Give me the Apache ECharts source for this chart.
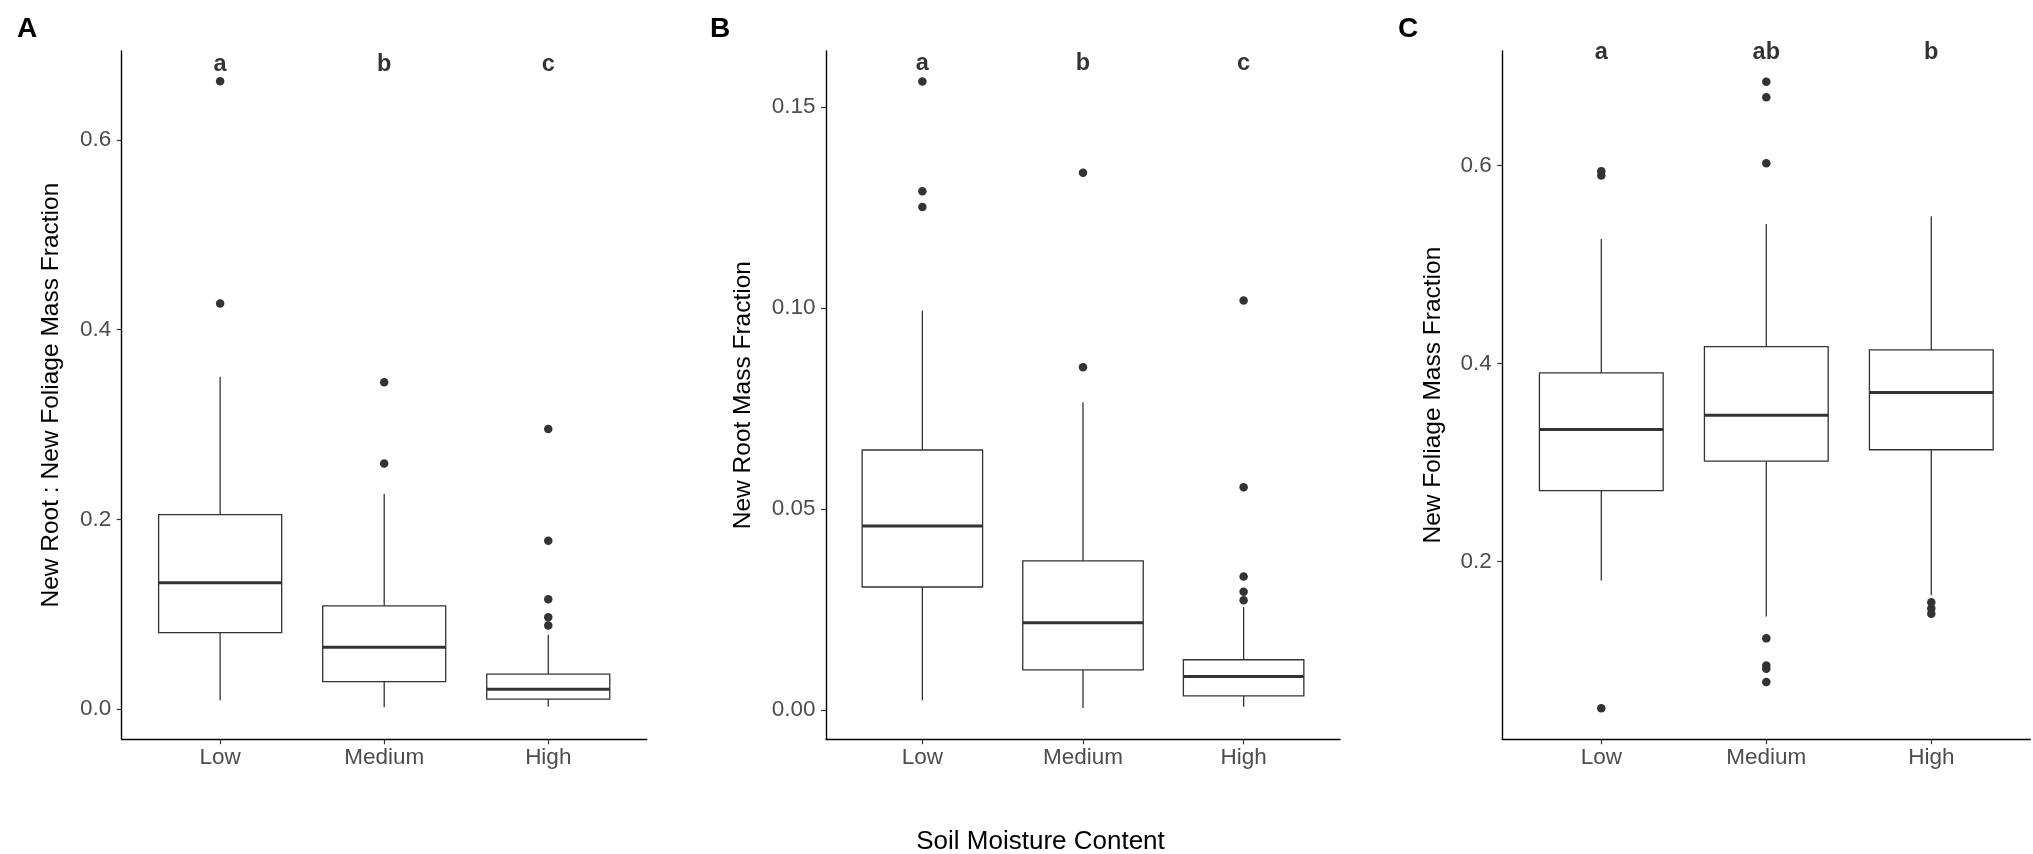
<!DOCTYPE html>
<html>
<head>
<meta charset="utf-8">
<script src="https://cdn.jsdelivr.net/npm/echarts@6/dist/echarts.min.js"></script>
<style>
  html, body { margin: 0; padding: 0; background: #fff; }
  #main { width: 2033px; height: 854px; }
</style>
</head>
<body>
<div id="main"></div>
<script>
// categories on the x axis of every panel
const categories = ['Low', 'Medium', 'High'];

// box stats per category: [min whisker, Q1, median, Q3, max whisker]
const boxA = [
  [0.0092, 0.0806, 0.1330, 0.2049, 0.3505],
  [0.0017, 0.0288, 0.0650, 0.1088, 0.2268],
  [0.0023, 0.0104, 0.0207, 0.0368, 0.0783]
];
const boxB = [
  [0.0024, 0.0306, 0.0458, 0.0647, 0.0994],
  [0.0005, 0.0100, 0.0217, 0.0371, 0.0766],
  [0.0008, 0.0035, 0.0083, 0.0125, 0.0256]
];
const boxC = [
  [0.1807, 0.2716, 0.3333, 0.3906, 0.5260],
  [0.1444, 0.3014, 0.3477, 0.4171, 0.5410],
  [0.1658, 0.3129, 0.3708, 0.4138, 0.5488]
];

// outliers: [category index, value]
const outliersA = [
  [0, 0.6620], [0, 0.4276],
  [1, 0.3447], [1, 0.2590],
  [2, 0.2953], [2, 0.1773], [2, 0.1157], [2, 0.0967], [2, 0.0881]
];
const outliersB = [
  [0, 0.1564], [0, 0.1291], [0, 0.1252],
  [1, 0.1337], [1, 0.0853],
  [2, 0.1019], [2, 0.0554], [2, 0.0332], [2, 0.0294], [2, 0.0273]
];
const outliersC = [
  [0, 0.5945], [0, 0.5900], [0, 0.0518],
  [1, 0.6849], [1, 0.6691], [1, 0.6024], [1, 0.1223], [1, 0.0948], [1, 0.0915], [1, 0.0782],
  [2, 0.1587], [2, 0.1526], [2, 0.1471]
];

// significance letters and the value they sit at
const lettersA = ['a', 'b', 'c'];
const lettersB = ['a', 'b', 'c'];
const lettersC = ['a', 'ab', 'b'];
const letterYA = 0.680;
const letterYB = 0.161;
const letterYC = 0.7145;

// y tick labels and axis ranges
const ticksA = [0, 0.2, 0.4, 0.6];
const ticksB = [0, 0.05, 0.10, 0.15];
const ticksC = [0.2, 0.4, 0.6];
const rangeA = [-0.032, 0.694];
const rangeB = [-0.0073, 0.164];
const rangeC = [0.0203, 0.7159];

const yTitles = [
  'New Root : New Foliage Mass Fraction',
  'New Root Mass Fraction',
  'New Foliage Mass Fraction'
];
const xTitle = 'Soil Moisture Content';
const panelTags = ['A', 'B', 'C'];

const FONT = '"Liberation Sans", Arial, Helvetica, sans-serif';
const INK = '#333333';

const chart = echarts.init(document.getElementById('main'), null, { renderer: 'canvas' });

const grids = [
  { left: 121.7, top: 51, width: 525, bottom: 114.7 },
  { left: 826, top: 51, width: 514, bottom: 114.7 },
  { left: 1502.3, top: 51, width: 528, bottom: 114.7 }
];

function xAxisFor(i) {
  return {
    type: 'value',
    gridIndex: i,
    min: -0.6,
    max: 2.6,
    axisLine: { show: true, onZero: false, lineStyle: { color: '#000', width: 1.4 } },
    axisTick: { show: true, length: 5, customValues: [0, 1, 2], lineStyle: { color: INK, width: 1.2 } },
    axisLabel: {
      customValues: [0, 1, 2],
      formatter: v => categories[Math.round(v)],
      color: '#4d4d4d',
      fontFamily: FONT,
      fontSize: 22.5,
      margin: 7
    },
    splitLine: { show: false }
  };
}

function yAxisFor(i, range, ticks, digits, gap) {
  return {
    type: 'value',
    gridIndex: i,
    min: range[0],
    max: range[1],
    name: yTitles[i],
    nameLocation: 'middle',
    nameGap: gap,
    nameTextStyle: { color: '#000', fontFamily: FONT, fontSize: 24.5 },
    axisLine: { show: true, onZero: false, lineStyle: { color: '#000', width: 1.4 } },
    axisTick: { show: true, length: 5, customValues: ticks, lineStyle: { color: INK, width: 1.2 } },
    axisLabel: {
      customValues: ticks,
      formatter: v => v.toFixed(digits),
      color: '#4d4d4d',
      fontFamily: FONT,
      fontSize: 22.5,
      margin: 10.5
    },
    splitLine: { show: false }
  };
}

function renderBox(params, api) {
  const x = api.value(0);
  const pMin = api.coord([x, api.value(1)]);
  const pQ1 = api.coord([x, api.value(2)]);
  const pMed = api.coord([x, api.value(3)]);
  const pQ3 = api.coord([x, api.value(4)]);
  const pMax = api.coord([x, api.value(5)]);
  const half = api.size([0.75, 0])[0] / 2;
  const thin = { stroke: INK, lineWidth: 1.3, fill: null };
  return {
    type: 'group',
    children: [
      { type: 'line', shape: { x1: pMin[0], y1: pMin[1], x2: pQ1[0], y2: pQ1[1] }, style: thin },
      { type: 'line', shape: { x1: pQ3[0], y1: pQ3[1], x2: pMax[0], y2: pMax[1] }, style: thin },
      {
        type: 'rect',
        shape: { x: pQ1[0] - half, y: pQ3[1], width: half * 2, height: pQ1[1] - pQ3[1] },
        style: { fill: '#fff', stroke: INK, lineWidth: 1.3 }
      },
      {
        type: 'line',
        shape: { x1: pMed[0] - half, y1: pMed[1], x2: pMed[0] + half, y2: pMed[1] },
        style: { stroke: INK, lineWidth: 3 }
      }
    ]
  };
}

function seriesFor(i, box, outliers, letters, letterY) {
  return [
    {
      type: 'custom',
      xAxisIndex: i,
      yAxisIndex: i,
      renderItem: renderBox,
      encode: { x: 0, y: [1, 2, 3, 4, 5] },
      data: box.map((b, k) => [k].concat(b)),
      silent: true,
      z: 2
    },
    {
      type: 'scatter',
      xAxisIndex: i,
      yAxisIndex: i,
      symbol: 'circle',
      symbolSize: 8.5,
      itemStyle: { color: INK, opacity: 1 },
      data: outliers,
      silent: true,
      z: 3
    },
    {
      type: 'scatter',
      xAxisIndex: i,
      yAxisIndex: i,
      symbolSize: 1,
      itemStyle: { color: 'rgba(0,0,0,0)' },
      label: {
        show: true,
        position: 'inside',
        formatter: p => p.name,
        color: '#000',
        fontFamily: FONT,
        fontWeight: 'bold',
        fontSize: 23.5
      },
      data: letters.map((l, k) => ({ name: l, value: [k, letterY] })),
      silent: true,
      z: 4
    }
  ];
}

const tagX = [17, 710, 1398];

const option = {
  backgroundColor: '#fff',
  animation: false,
  grid: grids,
  xAxis: [xAxisFor(0), xAxisFor(1), xAxisFor(2)],
  yAxis: [
    yAxisFor(0, rangeA, ticksA, 1, 57.5),
    yAxisFor(1, rangeB, ticksB, 2, 70.5),
    yAxisFor(2, rangeC, ticksC, 1, 57)
  ],
  series: [].concat(
    seriesFor(0, boxA, outliersA, lettersA, letterYA),
    seriesFor(1, boxB, outliersB, lettersB, letterYB),
    seriesFor(2, boxC, outliersC, lettersC, letterYC)
  ),
  graphic: panelTags.map((t, i) => ({
    type: 'text',
    left: tagX[i],
    top: 15,
    style: { text: t, font: 'bold 28px ' + FONT, fill: '#000' }
  })).concat([{
    type: 'text',
    x: 1040.5,
    y: 855,
    style: {
      text: xTitle,
      font: '26px ' + FONT,
      fill: '#000',
      textAlign: 'center',
      textVerticalAlign: 'bottom'
    }
  }])
};

chart.setOption(option);
</script>
</body>
</html>
